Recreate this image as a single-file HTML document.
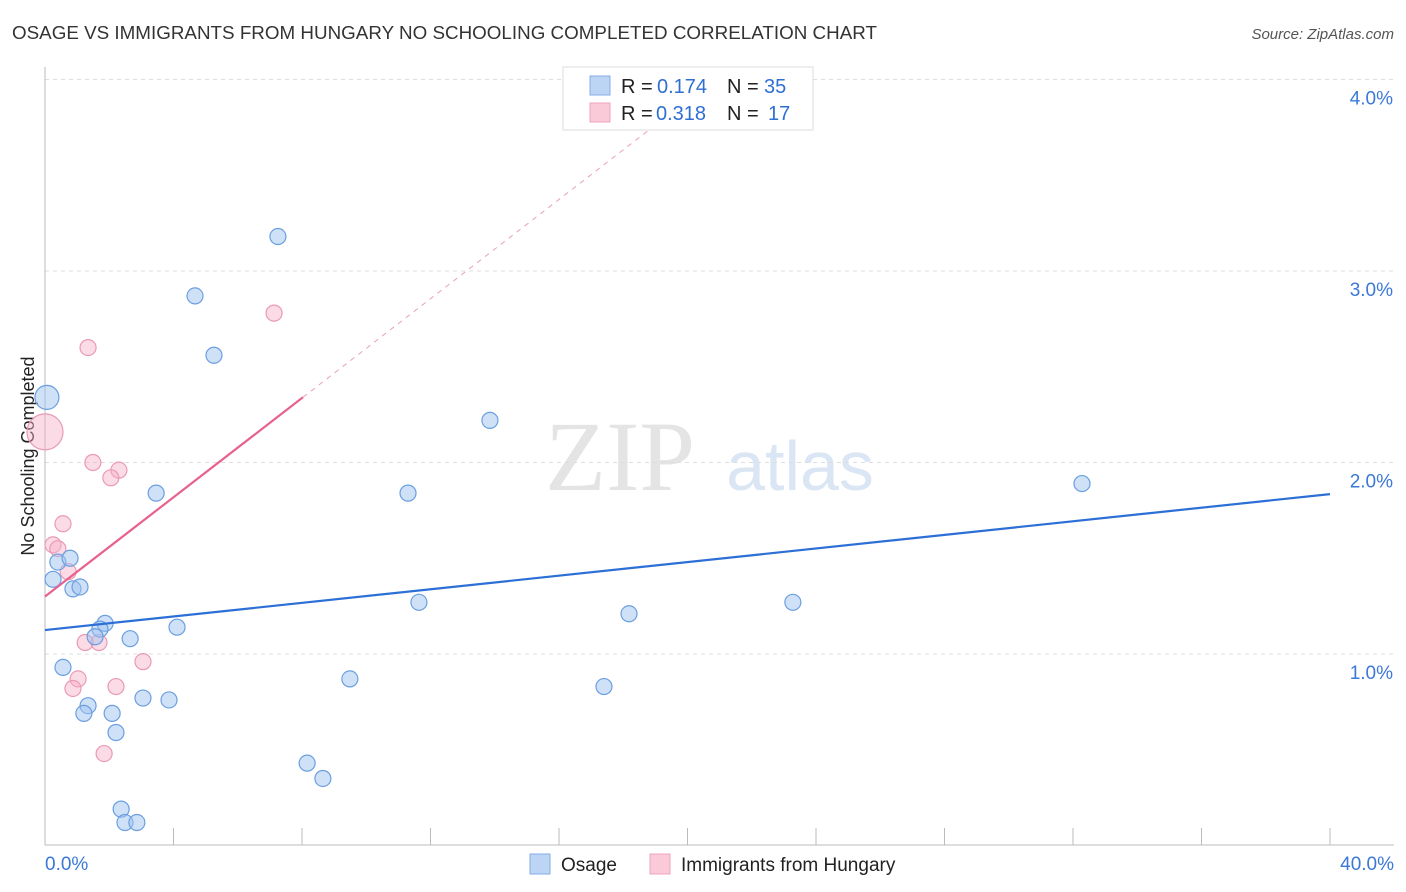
<!DOCTYPE html>
<html><head><meta charset="utf-8"><style>
body{margin:0;background:#fff;font-family:"Liberation Sans",sans-serif;}
svg{display:block}
</style></head><body>
<svg id="c" width="1406" height="892" xmlns="http://www.w3.org/2000/svg">
<text x="12" y="39" font-size="18.8" fill="#333" textLength="865">OSAGE VS IMMIGRANTS FROM HUNGARY NO SCHOOLING COMPLETED CORRELATION CHART</text>
<text x="1394" y="39" font-size="15" fill="#555" font-style="italic" text-anchor="end">Source: ZipAtlas.com</text>
<text x="620" y="490" font-size="100" fill="#e4e4e4" font-family="Liberation Serif,serif" text-anchor="middle">ZIP</text>
<text x="800" y="490" font-size="70" fill="#dbe6f5" text-anchor="middle">atlas</text>
<text transform="translate(34,456) rotate(-90)" font-size="18" fill="#222" text-anchor="middle">No Schooling Completed</text>
<g id="grid"></g><g id="marks"></g>
<g>
<rect x="563" y="67" width="250" height="63" fill="#fff" stroke="#ddd"/>
<rect x="590" y="76" width="20" height="19" fill="#bcd5f5" stroke="#86ace6"/>
<rect x="590" y="103" width="20" height="19" fill="#fbcad8" stroke="#eea6bd"/>
<text x="621" y="93" font-size="20" fill="#222">R =</text>
<text x="657" y="93" font-size="20" fill="#2f6fd3">0.174</text>
<text x="727" y="93" font-size="20" fill="#222">N =</text>
<text x="764" y="93" font-size="20" fill="#2f6fd3">35</text>
<text x="621" y="120" font-size="20" fill="#222">R =</text>
<text x="656" y="120" font-size="20" fill="#2f6fd3">0.318</text>
<text x="727" y="120" font-size="20" fill="#222">N =</text>
<text x="768" y="120" font-size="20" fill="#2f6fd3">17</text>
</g>
<g>
<rect x="530" y="854" width="20" height="20" fill="#bcd5f5" stroke="#86ace6"/>
<text x="561" y="871" font-size="19" fill="#222">Osage</text>
<rect x="650" y="854" width="20" height="20" fill="#fbcad8" stroke="#eea6bd"/>
<text x="681" y="871" font-size="19" fill="#222">Immigrants from Hungary</text>
</g>
</svg>
<script>
const blueX=[0.06,7.25,4.67,5.26,13.85,3.46,11.30,32.28,0.25,0.40,0.78,0.87,1.09,1.87,1.71,1.56,2.65,4.11,11.64,18.18,23.28,0.56,9.49,17.40,1.34,1.21,2.09,3.05,3.86,2.21,8.16,8.65,2.37,2.49,2.86];
const blueY=[2.34,3.18,2.87,2.56,2.22,1.84,1.84,1.89,1.39,1.48,1.50,1.34,1.35,1.16,1.13,1.09,1.08,1.14,1.27,1.21,1.27,0.93,0.87,0.83,0.73,0.69,0.69,0.77,0.76,0.59,0.43,0.35,0.19,0.12,0.12];
const pinkX=[0,7.13,1.34,1.49,2.30,2.05,0.56,0.25,0.40,0.72,1.25,1.68,3.05,1.03,0.87,2.21,1.84];
const pinkY=[2.16,2.78,2.60,2.00,1.96,1.92,1.68,1.57,1.55,1.43,1.06,1.06,0.96,0.87,0.82,0.83,0.48];
const yTicks=[1,2,3,4];
const yTickLabels=["1.0%","2.0%","3.0%","4.0%"];
const xTicks=[4,8,12,16,20,24,28,32,36,40];
const blueTrend=[1.125,1.835];
const pinkTrend=[1.30,0.1296];
const X=v=>45+v*32.125, Y=v=>845.5-v*191.5;
const NS="http://www.w3.org/2000/svg";
const grid=document.getElementById('grid'), marks=document.getElementById('marks');
function mk(p,tag,at){const e=document.createElementNS(NS,tag);for(const k in at)e.setAttribute(k,at[k]);p.appendChild(e);return e;}
yTicks.forEach((t,i)=>{
 const l=mk(grid,'line',{x1:45,x2:1394,y1:Y(t),y2:Y(t),stroke:'#ddd','stroke-dasharray':'4,4'});
 
 
 const tx=mk(grid,'text',{x:1393,y:Y(t)+25,'font-size':19,fill:'#3b78d8','text-anchor':'end'});
 tx.textContent=yTickLabels[i];
 
 
});
const ax=mk(grid,'line',{x1:45,x2:1394,y1:845,y2:845,stroke:'#bbb'});


const ay=mk(grid,'line',{x1:45,x2:45,y1:67,y2:845,stroke:'#bbb'});


xTicks.forEach(t=>{const l=mk(grid,'line',{x1:X(t),x2:X(t),y1:828,y2:845,stroke:'#bbb'});
 
 });
const x0=mk(grid,'text',{x:45,y:870,'font-size':19,fill:'#3b78d8'});x0.textContent='0.0%';


const x1=mk(grid,'text',{x:1394,y:870,'font-size':19,fill:'#3b78d8','text-anchor':'end'});x1.textContent='40.0%';


function dot(x,y,r,f,s,name){const c=mk(marks,'circle',{cx:X(x),cy:Y(y),r:r,fill:f,stroke:s,'stroke-width':1.2});
 
 }
pinkX.forEach((x,i)=>dot(x,pinkY[i],i==0?18:8,'rgba(247,176,200,0.45)','#e99ab4','hungary-point'));
blueX.forEach((x,i)=>dot(x,blueY[i],i==0?12:8,'rgba(160,196,240,0.5)','#6b9fe0','osage-point'));
const bl=mk(marks,'line',{x1:X(0),y1:Y(blueTrend[0]),x2:X(40),y2:Y(blueTrend[1]),stroke:'#2c6fd6','stroke-width':2.2});


const pe=(4.0-pinkTrend[0])/pinkTrend[1];
const pd=mk(marks,'line',{x1:X(8.03),y1:Y(pinkTrend[0]+pinkTrend[1]*8.03),x2:X(pe),y2:Y(4.0),stroke:'#e8a0b8','stroke-width':1,'stroke-dasharray':'5,5'});


const pl=mk(marks,'line',{x1:X(0),y1:Y(pinkTrend[0]),x2:X(8.03),y2:Y(pinkTrend[0]+pinkTrend[1]*8.03),stroke:'#e8628f','stroke-width':2.2});


</script>
</body></html>
